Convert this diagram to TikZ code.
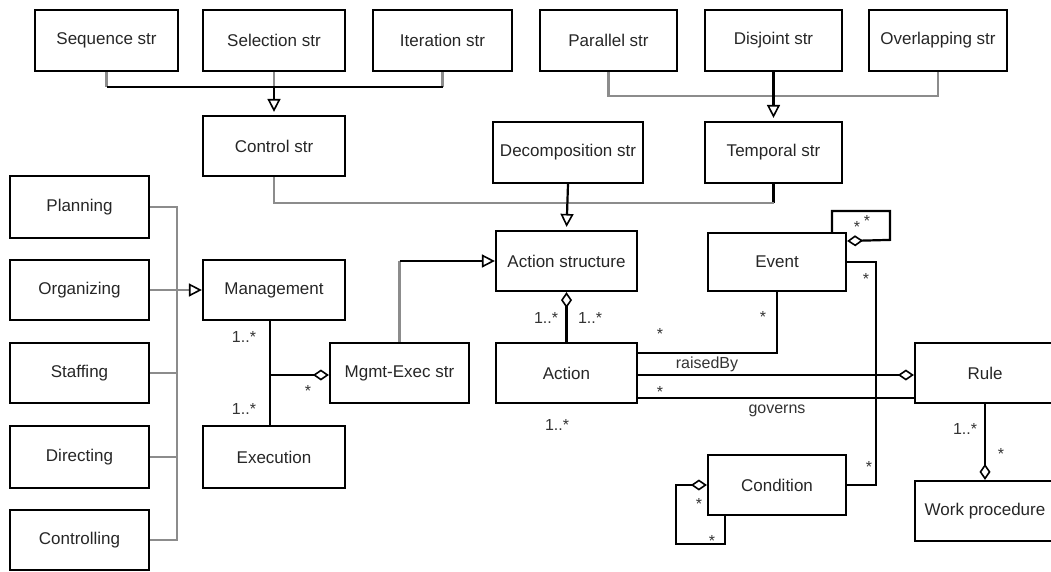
\documentclass[tikz,border=0pt]{standalone}
\usepackage{fontspec}
\setmainfont{Liberation Sans}
\usetikzlibrary{arrows.meta}
\begin{document}
\begin{tikzpicture}[x=1pt,y=-1pt,
  box/.style={draw, line width=2.2pt, minimum height=60pt, minimum width=140pt, inner sep=2pt, font=\fontsize{17}{20}\selectfont, text=black!85},
  ln/.style={line width=2.2pt},
  gl/.style={line width=2.2pt, draw=black!45},
  lbl/.style={anchor=base, inner sep=0pt, font=\fontsize{16}{19}\selectfont, text=black!80},
  gen/.style={-{Triangle[open,length=13pt,width=13pt,line width=1.6pt,color=black]}, shorten >=3pt},
  agg/.style={-{Diamond[open,length=16pt,width=11pt,line width=1.6pt,color=black]}},
  aggs/.style={{Diamond[open,length=16pt,width=11pt,line width=1.6pt,color=black]}-},
]
\useasboundingbox (0,0) rectangle (1051,571);
% top row
\node[box, minimum width=143pt, minimum height=61pt] (seq) at (106.5,40.5) {Sequence str};
\node[box, minimum width=142pt, minimum height=61pt] (sel) at (274,40.5) {Selection str};
\node[box, minimum width=139pt, minimum height=61pt] (ite) at (442.5,40.5) {Iteration str};
\node[box, minimum width=137pt, minimum height=61pt] (par) at (608.5,40.5) {Parallel str};
\node[box, minimum width=137pt, minimum height=61pt] (dis) at (773.5,40.5) {Disjoint str};
\node[box, minimum width=138pt, minimum height=61pt] (ovl) at (938,40.5) {Overlapping str};
% second row
\node[box, minimum width=142pt] (ctrl) at (274,146) {Control str};
\node[box, minimum width=150pt, minimum height=61pt] (dec) at (568,152.5) {Decomposition str};
\node[box, minimum width=137pt, minimum height=61pt] (tmp) at (773.5,152.5) {Temporal str};
% left column
\node[box, minimum width=139pt, minimum height=62pt] (plan) at (79.5,207) {Planning};
\node[box, minimum width=139pt] (org) at (79.5,290) {Organizing};
\node[box, minimum width=139pt] (staff) at (79.5,373) {Staffing};
\node[box, minimum width=139pt, minimum height=62pt] (dir) at (79.5,457) {Directing};
\node[box, minimum width=139pt] (contr) at (79.5,540) {Controlling};
% middle
\node[box, minimum width=142pt] (mgmt) at (274,290) {Management};
\node[box, minimum width=142pt, minimum height=62pt] (exec) at (274,457) {Execution};
\node[box, minimum width=139pt] (me) at (399.5,373) {Mgmt-Exec str};
\node[box, minimum width=141pt] (as) at (566.5,261) {Action structure};
\node[box, minimum width=138pt, minimum height=58pt] (event) at (777,262) {Event};
\node[box, minimum width=141pt] (action) at (566.5,373) {Action};
\node[box, minimum width=140pt] (rule) at (985,373) {Rule};
\node[box, minimum width=138pt] (cond) at (777,485) {Condition};
\node[box, minimum width=140pt] (wp) at (985,511) {Work procedure};

% control str generalisation
\coordinate (j1) at (274,87);
\draw[gl] (seq.south) -- (seq.south |- j1);
\draw[gl] (ite.south) -- (ite.south |- j1);
\draw[gl] (sel.south) -- (j1);
\draw[ln] (seq.south |- j1) -- (ite.south |- j1);
\draw[ln,gen] (j1) -- (ctrl.north);
% temporal generalisation
\coordinate (j2) at (773.5,96);
\draw[gl] (par.south) |- (ovl.south |- j2) -- (ovl.south);
\draw[ln,gen] (dis.south) -- (tmp.north);
% action structure generalisation
\coordinate (j3) at (568,203);
\draw[gl] (ctrl.south) |- (j3);
\draw[ln] (tmp.south) -- (tmp.south |- j3);
\draw[gl] (tmp.south |- j3) -- (j3);
\draw[ln,gen] (dec.south) -- (as.north);
% management generalisation
\coordinate (j4) at (177,290);
\draw[gl] (plan.east) -| (j4 |- contr.east) -- (contr.east);
\draw[gl] (staff.east) -- (staff.east -| j4);
\draw[gl] (dir.east) -- (dir.east -| j4);
\draw[gl,gen,shorten >=0pt] (org.east) -- (mgmt.west);
% management - execution
\draw[ln] ([xshift=-4pt]mgmt.south) -- ([xshift=-4pt]exec.north);
\coordinate (j5) at (270,375);
\draw[ln,agg] (j5) -- (j5 -| me.west);
\draw[gl] (me.north) -- (me.north |- as.west);
\draw[ln,gen,shorten >=0pt] (me.north |- as.west) -- (as.west);
% action structure - action
\draw[ln,aggs] (as.south) -- (action.north);
% event - action
\draw[ln] (event.south) |- ([yshift=20pt]action.east);
\draw[ln,agg] ([yshift=-2pt]action.east) -- ([yshift=-2pt]rule.west);
\draw[ln] ([yshift=-25pt]action.east) -- ([yshift=-25pt]rule.west);
\draw[ln] (event.east) -- ++(29,0) |- (cond.east);
\draw[ln,agg] ([xshift=55pt]event.north) -- ++(0,-21) -- ++(58,0) -- ++(0,29) -- ([yshift=21pt]event.east);
\draw[ln,agg] ([xshift=18pt]cond.south west) -- ++(0,28) -- ++(-49,0) |- (cond.west);
\draw[ln,agg] (rule.south) -- (wp.north);

% labels
\node[lbl] (l1) at (244,342) {1..*};
\node[lbl] (l2) at (244,414) {1..*};
\node[lbl] (l3) at (308,396) {*};
\node[lbl] (l4) at (546,323) {1..*};
\node[lbl] (l5) at (590,323) {1..*};
\node[lbl] (l6) at (660,339) {*};
\node[lbl] (l7) at (763,322) {*};
\node[lbl] (l8) at (707,368) {raisedBy};
\node[lbl] (l9) at (660,397) {*};
\node[lbl] (l10) at (777,413) {governs};
\node[lbl] (l11) at (557,430) {1..*};
\node[lbl] (l12) at (857,232) {*};
\node[lbl] (l13) at (867,226) {*};
\node[lbl] (l14) at (866,284) {*};
\node[lbl] (l15) at (869,472) {*};
\node[lbl] (l16) at (965,434) {1..*};
\node[lbl] (l17) at (1001,459) {*};
\node[lbl] (l18) at (699,509) {*};
\node[lbl] (l19) at (712,546) {*};
\end{tikzpicture}
\end{document}
